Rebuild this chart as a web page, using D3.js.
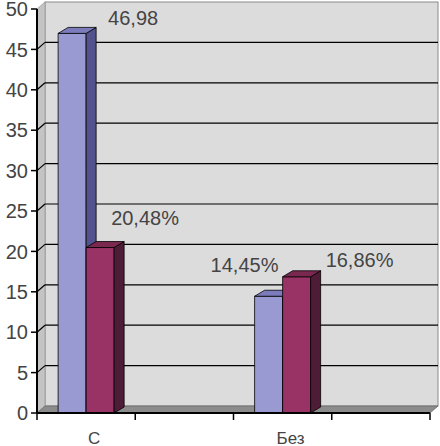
<!DOCTYPE html>
<html lang="ru">
<head>
<meta charset="utf-8">
<title>С / Без</title>
<script src="https://d3js.org/d3.v7.min.js"></script>
<style>
  body { margin: 0; background: #fff; }
  text { font-family: Arial, "Liberation Sans", sans-serif; fill: #444; }
</style>
</head>
<body>
<svg id="chart" width="440" height="446"></svg>
<script>
// data
const categories = ["С", "", "Без", ""];
const series = ["s1", "s2"];
const seriesValues = {
  s1: [46.98, null, 14.45, null],
  s2: [20.48, null, 16.86, null]
};
const labels = {
  s1: ["46,98", null, "14,45%", null],
  s2: ["20,48%", null, "16,86%", null]
};
const yTicks = [0, 5, 10, 15, 20, 25, 30, 35, 40, 45, 50];

// label nudges (dx from bar centre, dy from bar top), as placed in the original
const labelNudge = {
  s1: [[36, -8], null, [-58, -24], null],
  s2: [[11, -23], null, [29, -10], null]
};

const colors = {
  s1: { front: "#9a9ad2", side: "#52528c", top: "#7c7cbc" },
  s2: { front: "#993366", side: "#4e1c36", top: "#7a2850" }
};

const svg = d3.select("#chart");

const plotLeft = 37, plotRight = 430, plotTop = 9, plotBottom = 413;
const wdx = 8, wdy = -7;     // wall depth
const bdx = 10, bdy = -6;    // bar depth

const y = d3.scaleLinear().domain([0, 50]).range([plotBottom, plotTop]);
const x = d3.scaleBand().domain(categories.map((c, i) => i)).range([plotLeft, plotRight]).padding(0);
const xs = d3.scaleBand().domain(series).range([0, x.bandwidth()]).paddingInner(0).paddingOuter(0.754);

// walls
svg.append("rect")
  .attr("x", plotLeft + wdx).attr("y", plotTop + wdy)
  .attr("width", plotRight - plotLeft).attr("height", plotBottom - plotTop)
  .attr("fill", "#dcdcdc").attr("stroke", "#8a8a8a").attr("stroke-width", 1);

svg.append("polygon")
  .attr("points", [[plotLeft, plotTop], [plotLeft + wdx, plotTop + wdy], [plotLeft + wdx, plotBottom + wdy], [plotLeft, plotBottom]].join(" "))
  .attr("fill", "#c4c4c4").attr("stroke", "#9a9a9a").attr("stroke-width", 0.8);

svg.append("polygon")
  .attr("points", [[plotLeft, plotBottom], [plotLeft + wdx, plotBottom + wdy], [plotRight + wdx, plotBottom + wdy], [plotRight, plotBottom]].join(" "))
  .attr("fill", "#8c8c8c").attr("stroke", "#6a6a6a").attr("stroke-width", 0.8);

// gridlines
const grid = svg.append("g").attr("stroke", "#000").attr("stroke-width", 1.2);
yTicks.filter(v => v > 0 && v < 50).forEach(v => {
  grid.append("line")
    .attr("x1", plotLeft + wdx).attr("x2", plotRight + wdx)
    .attr("y1", y(v) + wdy).attr("y2", y(v) + wdy);
  grid.append("line")
    .attr("x1", plotLeft).attr("x2", plotLeft + wdx)
    .attr("y1", y(v)).attr("y2", y(v) + wdy);
});

// bars
const bars = [];
series.forEach(s => {
  categories.forEach((c, i) => {
    const v = seriesValues[s][i];
    if (v == null) return;
    bars.push({ s, i, v, label: labels[s][i], nudge: labelNudge[s][i] });
  });
});

const g = svg.append("g").attr("stroke", "#000").attr("stroke-width", 0.8).attr("stroke-linejoin", "round");
bars.sort((a, b) => a.i - b.i || series.indexOf(a.s) - series.indexOf(b.s));
bars.forEach(d => {
  const x0 = x(d.i) + xs(d.s), w = xs.bandwidth();
  const y0 = y(d.v), y1 = y(0);
  g.append("rect")
    .attr("x", x0).attr("y", y0).attr("width", w).attr("height", y1 - y0)
    .attr("fill", colors[d.s].front);
  g.append("polygon")
    .attr("points", [[x0 + w, y0], [x0 + w + bdx, y0 + bdy], [x0 + w + bdx, y1 + bdy], [x0 + w, y1]].join(" "))
    .attr("fill", colors[d.s].side);
  g.append("polygon")
    .attr("points", [[x0, y0], [x0 + bdx, y0 + bdy], [x0 + w + bdx, y0 + bdy], [x0 + w, y0]].join(" "))
    .attr("fill", colors[d.s].top);
});

// data labels
bars.forEach(d => {
  const cx = x(d.i) + xs(d.s) + xs.bandwidth() / 2;
  svg.append("text")
    .attr("x", cx + d.nudge[0]).attr("y", y(d.v) + d.nudge[1])
    .attr("font-size", 20)
    .text(d.label);
});

// axes
svg.append("line").attr("x1", plotLeft).attr("x2", plotLeft).attr("y1", plotTop).attr("y2", plotBottom)
  .attr("stroke", "#000").attr("stroke-width", 2);
svg.append("line").attr("x1", plotLeft).attr("x2", plotRight).attr("y1", plotBottom).attr("y2", plotBottom)
  .attr("stroke", "#000").attr("stroke-width", 2);

yTicks.forEach(v => {
  svg.append("line").attr("x1", plotLeft - 6).attr("x2", plotLeft).attr("y1", y(v)).attr("y2", y(v))
    .attr("stroke", "#000").attr("stroke-width", 1.5);
  svg.append("text")
    .attr("x", 28).attr("y", y(v)).attr("dy", "0.36em")
    .attr("text-anchor", "end").attr("font-size", 20)
    .text(v);
});

const xTickPos = categories.map((c, i) => x(i)).concat([plotRight]);
xTickPos.forEach(p => {
  svg.append("line").attr("x1", p).attr("x2", p).attr("y1", plotBottom).attr("y2", plotBottom + 7)
    .attr("stroke", "#000").attr("stroke-width", 1.5);
});

categories.forEach((c, i) => {
  if (!c) return;
  svg.append("text")
    .attr("x", x(i) + x.bandwidth() / 2 + wdx).attr("y", 444)
    .attr("text-anchor", "middle").attr("font-size", 17)
    .text(c);
});
</script>
</body>
</html>
